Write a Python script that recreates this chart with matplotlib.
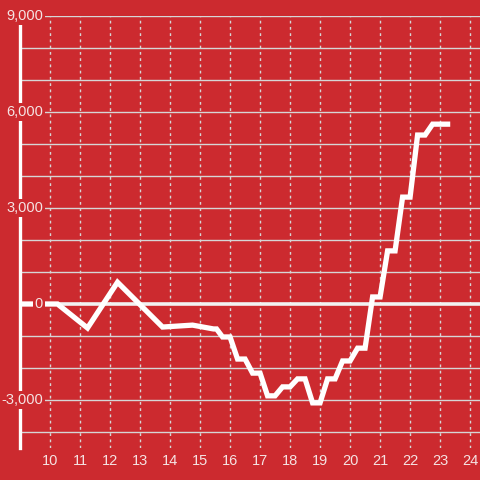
import matplotlib
matplotlib.use("Agg")
import matplotlib.pyplot as plt
import matplotlib.transforms as mtransforms

# data
x_vals = [9, 10.25, 11.25, 12.25, 13.75, 14.75, 15.45, 15.55, 15.75, 16.0, 16.25, 16.5,
          16.75, 17.0, 17.25, 17.5, 17.75, 18.0, 18.25, 18.5, 18.75, 19.0, 19.25, 19.5,
          19.75, 20.0, 20.25, 20.5, 20.75, 21.0, 21.25, 21.5, 21.75, 22.0, 22.25, 22.5,
          22.75, 23.25]
y_vals = [0, 0, -750, 680, -720, -660, -780, -780, -1030, -1030, -1720, -1720,
          -2160, -2160, -2870, -2870, -2590, -2590, -2340, -2340, -3090, -3090, -2340, -2340,
          -1780, -1780, -1380, -1380, 220, 220, 1660, 1660, 3340, 3340, 5280, 5280,
          5620, 5620]
x_ticks = list(range(10, 25))
y_label_vals = [9000, 6000, 3000, 0, -3000]
y_grid_vals = list(range(-4000, 9001, 1000))

RED = "#cc2a2f"
TXT = "#f5e3e3"
GRID = "#d6d6d6"

plt.rcParams['font.family'] = ['Liberation Sans', 'DejaVu Sans']

fig = plt.figure(figsize=(4.8, 4.8), dpi=100, facecolor=RED)
ax = fig.add_axes([20/480, 32/480, 460/480, 432/480])
ax.set_facecolor(RED)
ax.set_xlim(9, 24.33)
ax.set_ylim(-4500, 9000)

for s in ["top", "right", "bottom"]:
    ax.spines[s].set_visible(False)
ax.spines["left"].set_color("white")
ax.spines["left"].set_linewidth(2.4)
ax.spines["left"].set_zorder(3)

# grid
for g in y_grid_vals:
    if g == 0:
        continue
    ax.axhline(g, color=GRID, lw=1.0, zorder=1)
for t in x_ticks:
    ax.axvline(t, color=GRID, lw=1.0, ls=(0, (2, 2.5)), zorder=1)
ax.axhline(0, color="#f2f2f2", lw=2.6, zorder=2)

ax.plot(x_vals, y_vals, color="white", lw=3.8, zorder=4, solid_joinstyle="miter")

ax.set_xticks(x_ticks)
ax.set_xticklabels([str(t) for t in x_ticks], color=TXT, fontsize=10.5)
ax.tick_params(axis="x", length=0, pad=4)
ax.set_yticks([])

trans = mtransforms.blended_transform_factory(ax.transAxes, ax.transData)
for v in y_label_vals:
    ax.text(0.05, v, f"{v:,}", transform=trans, ha="right", va="center",
            color=TXT, fontsize=10.5, zorder=5, clip_on=False,
            bbox=dict(boxstyle="square,pad=0.15", fc=RED, ec="none"))

fig.savefig("out.png", dpi=100, facecolor=RED)
